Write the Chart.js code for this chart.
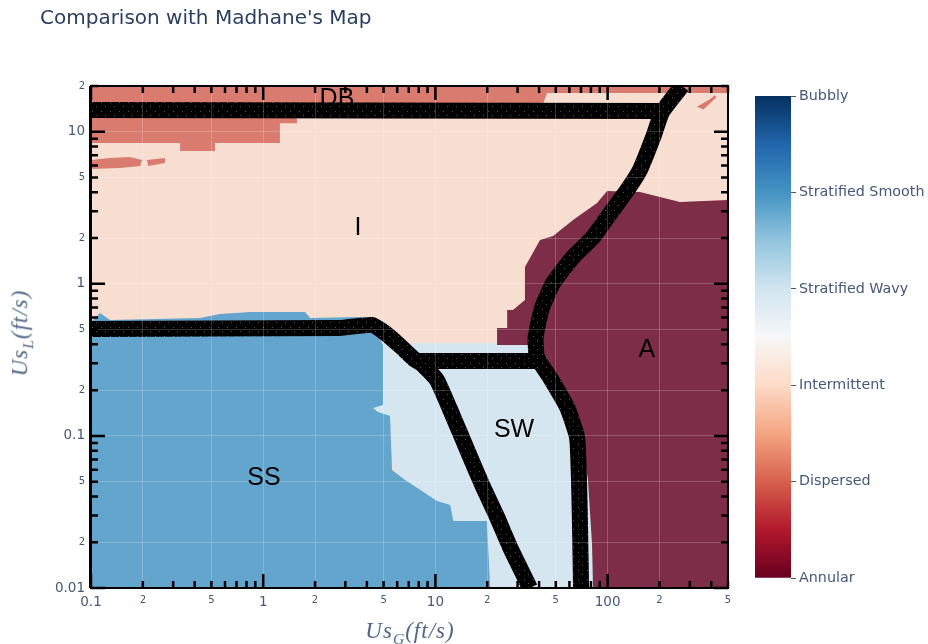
<!DOCTYPE html>
<html>
<head>
<meta charset="utf-8">
<script src="https://cdn.jsdelivr.net/npm/chart.js@4.4.1/dist/chart.umd.min.js"></script>
<style>
  body { margin: 0; background: #fff; }
  #wrap { position: relative; width: 928px; height: 644px; font-family: "DejaVu Sans", Verdana, sans-serif; }
  #main { position: absolute; left: 0; top: 0; }
  #cbar { position: absolute; left: 755px; top: 84px; }
  .title { position: absolute; left: 40px; top: 5px; font-size: 20px; color: #2a3f5f; white-space: nowrap; }
  .axtitle { position: absolute; font-family: "Liberation Serif", "DejaVu Serif", serif; font-style: italic;
             font-size: 23px; letter-spacing: 1px; color: #506784; white-space: nowrap; }
  .axtitle sub { font-size: 68%; }
</style>
</head>
<body>
<div id="wrap">
  <canvas id="main" width="928" height="644"></canvas>
  <canvas id="cbar" width="173" height="506"></canvas>
  <div class="title">Comparison with Madhane's Map</div>
  <div class="axtitle" style="left:410px; top:633px; transform:translate(-50%,-50%);">Us<sub>G</sub>(ft/s)</div>
  <div class="axtitle" style="left:22px; top:333px; transform:translate(-50%,-50%) rotate(-90deg);">Us<sub>L</sub>(ft/s)</div>
</div>
<script>
// axis ticks, plotly style (decade + 2 + 5)
const xTickVals = [0.1, 0.2, 0.5, 1, 2, 5, 10, 20, 50, 100, 200, 500];
const xTickText = ["0.1", "2", "5", "1", "2", "5", "10", "2", "5", "100", "2", "5"];
const yTickVals = [0.01, 0.02, 0.05, 0.1, 0.2, 0.5, 1, 2, 5, 10, 20];
const yTickText = ["0.01", "2", "5", "0.1", "2", "5", "1", "2", "5", "10", "2"];

// colorbar, bottom to top
const regimes = ["Annular", "Dispersed", "Intermittent", "Stratified Wavy", "Stratified Smooth", "Bubbly"];
const rdbu = ["#67001f", "#b2182b", "#d6604d", "#f4a582", "#fddbc7", "#f7f7f7",
              "#d1e5f0", "#92c5de", "#4393c3", "#2166ac", "#053061"];

// predicted regime areas [UsG, UsL]
const intermittentArea = [[0.1, 0.01], [500, 0.01], [500, 20], [0.1, 20]];
const dispersedArea = [[0.1, 20], [500, 20], [500, 18], [44.5, 18], [40.5, 13.5], [1.57, 12.3], [1.57, 11.4],
  [1.25, 11.4], [1.25, 8.44], [0.525, 8.44], [0.525, 7.47], [0.329, 7.47], [0.329, 8.44], [0.1, 8.44]];
const dispersedPatch1 = [[0.1, 6.52], [0.129, 6.72], [0.168, 6.83], [0.198, 6.52], [0.193, 5.96], [0.147, 5.78], [0.1, 5.69]];
const dispersedPatch2 = [[0.211, 6.52], [0.269, 6.72], [0.269, 6.23], [0.215, 5.96]];
const dispersedStreak = [[330, 14.6], [390, 16.3], [420, 17.4], [428, 16.8], [360, 14.0]];
const annularArea = [[500, 0.01], [82.3, 0.01], [81.2, 0.0192], [76.9, 0.0514], [71.0, 0.0939], [60.5, 0.16],
  [50.8, 0.233], [43.3, 0.293], [38.9, 0.396], [22.8, 0.396], [22.8, 0.513], [26.1, 0.513], [26.1, 0.673],
  [28.2, 0.673], [33.1, 0.784], [33.1, 1.29], [40.5, 1.94], [48.2, 2.06], [63.0, 2.63], [86.8, 3.4],
  [99.3, 4.08], [154, 4.02], [263, 3.45], [500, 3.56]];
const smoothArea = [[0.1, 0.01], [20.8, 0.01], [19.9, 0.0276], [12.7, 0.0276], [12.2, 0.0352], [10.2, 0.0374],
  [8.14, 0.0442], [6.66, 0.0514], [5.6, 0.0597], [5.45, 0.1353], [4.64, 0.1438], [4.34, 0.1528], [4.96, 0.16],
  [4.96, 0.396], [4.64, 0.461], [4.28, 0.579], [3.65, 0.606], [1.87, 0.597], [1.75, 0.653], [0.838, 0.653],
  [0.561, 0.634], [0.43, 0.597], [0.129, 0.579], [0.113, 0.644], [0.1, 0.562]];
const wavyArea = [[4.34, 0.408], [38.9, 0.408], [43.3, 0.293], [60.5, 0.16], [73.9, 0.0939], [81.2, 0.0514],
  [84.5, 0.01], [18.2, 0.01], [5.82, 0.0597], [4.34, 0.148]];

// Madhane's map transition lines
const lineTop = [[0.1, 13.9], [205, 13.7]];
const lineRight = [[270, 20], [207, 13.5], [184, 9.25], [154, 5.61], [130, 4.14], [107, 3.06], [82.3, 2.03],
  [63.0, 1.5], [48.2, 1.01], [41.5, 0.69], [38.2, 0.447], [38.9, 0.33], [46.5, 0.24], [58.1, 0.155],
  [66.4, 0.0984], [68.2, 0.0514], [69.2, 0.0241], [70.1, 0.01]];
const lineLeft = [[0.1, 0.505], [2.79, 0.513], [4.28, 0.537], [5.1, 0.475], [6.23, 0.391], [7.61, 0.316],
  [8.36, 0.297], [10.2, 0.233], [12.7, 0.133], [15.9, 0.0728], [18.9, 0.0462], [22.8, 0.0293], [27.1, 0.0186], [35.4, 0.01]];
const lineMid = [[7.61, 0.311], [40.5, 0.311]];

// region names written on the map
const regionText = ["DB", "I", "SS", "SW", "A"];
const regionX = [2.68, 3.55, 1.01, 28.6, 169];
const regionY = [16.4, 2.33, 0.053, 0.109, 0.367];

const pts = (arr) => arr.map(p => ({ x: p[0], y: p[1] }));

const speck = document.createElement('canvas');
speck.width = 9; speck.height = 9;
const sctx = speck.getContext('2d');
sctx.fillStyle = '#000';
sctx.fillRect(0, 0, 9, 9);
sctx.fillStyle = 'rgba(120,120,120,0.7)';
sctx.fillRect(2, 3, 1, 1);
sctx.fillRect(6, 7, 1, 1);
const speckle = sctx.createPattern(speck, 'repeat');

function area(arr, color) {
  return { data: pts(arr), fill: 'shape', backgroundColor: color, borderColor: 'rgba(0,0,0,0)',
           borderWidth: 0, pointRadius: 0, tension: 0 };
}
function boundary(arr) {
  return { data: pts(arr), fill: false, borderColor: speckle, borderWidth: 16, pointRadius: 0,
           tension: 0.15, borderJoinStyle: 'round', borderCapStyle: 'butt', clip: 0 };
}

const isDecade = (v) => Math.abs(Math.log10(v) - Math.round(Math.log10(v))) < 1e-9;
const tickFont = (c) => ({ family: "DejaVu Sans", size: isDecade(c.tick.value) ? 13.5 : 10 });

// plot frame with inward ticks + region names
const frame = {
  id: 'frame',
  afterDraw(chart) {
    const { ctx, chartArea: a, scales } = chart;
    ctx.save();
    ctx.strokeStyle = '#000';
    ctx.lineWidth = 2;
    ctx.strokeRect(a.left, a.top, a.right - a.left, a.bottom - a.top);
    ctx.lineWidth = 3;
    ctx.beginPath(); ctx.moveTo(a.left - 0.5, a.top); ctx.lineTo(a.left - 0.5, a.bottom); ctx.stroke();
    ctx.lineWidth = 2.5;
    for (let d = -2; d <= 2; d++) {
      for (let k = 1; k <= 9; k++) {
        const v = k * Math.pow(10, d);
        const len = k === 1 ? 14 : 7;
        if (v >= 0.1 && v <= 500) {
          const px = scales.x.getPixelForValue(v);
          ctx.beginPath();
          ctx.moveTo(px, a.bottom); ctx.lineTo(px, a.bottom - len);
          ctx.moveTo(px, a.top); ctx.lineTo(px, a.top + len);
          ctx.stroke();
        }
        if (v >= 0.01 && v <= 20) {
          const py = scales.y.getPixelForValue(v);
          ctx.beginPath();
          ctx.moveTo(a.left, py); ctx.lineTo(a.left + len, py);
          ctx.moveTo(a.right, py); ctx.lineTo(a.right - len, py);
          ctx.stroke();
        }
      }
    }
    ctx.fillStyle = '#000';
    ctx.font = '25px "Liberation Sans", sans-serif';
    ctx.textAlign = 'center';
    ctx.textBaseline = 'middle';
    regionText.forEach((t, i) => {
      ctx.fillText(t, scales.x.getPixelForValue(regionX[i]), scales.y.getPixelForValue(regionY[i]));
    });
    ctx.restore();
  }
};

new Chart(document.getElementById('main'), {
  type: 'line',
  data: {
    datasets: [
      boundary(lineTop),
      boundary(lineRight),
      boundary(lineLeft),
      boundary(lineMid),
      area(smoothArea, 'rgb(99,165,205)'),
      area(annularArea, 'rgb(126,45,73)'),
      area(dispersedPatch1, 'rgb(217,124,111)'),
      area(dispersedPatch2, 'rgb(217,124,111)'),
      area(dispersedStreak, 'rgb(217,124,111)'),
      area(dispersedArea, 'rgb(217,124,111)'),
      area(wavyArea, 'rgb(213,230,241)'),
      area(intermittentArea, 'rgb(248,222,208)')
    ]
  },
  options: {
    responsive: false,
    animation: false,
    layout: { padding: { left: 0, top: 86, right: 200, bottom: 0 } },
    plugins: { legend: { display: false }, tooltip: { enabled: false } },
    scales: {
      x: {
        type: 'logarithmic', min: 0.1, max: 500,
        afterBuildTicks: (s) => { s.ticks = xTickVals.map(v => ({ value: v })); },
        afterFit: (s) => { s.height = 56; },
        grid: { color: 'rgba(255,255,255,0.2)', drawTicks: false, z: 1 },
        border: { display: false },
        ticks: { autoSkip: false, maxRotation: 0, padding: 6, color: '#44587a', font: tickFont,
                 callback: (v, i) => xTickText[i] }
      },
      y: {
        type: 'logarithmic', min: 0.01, max: 20,
        afterBuildTicks: (s) => { s.ticks = yTickVals.map(v => ({ value: v })); },
        afterFit: (s) => { s.width = 91; },
        grid: { color: 'rgba(255,255,255,0.2)', drawTicks: false, z: 1 },
        border: { display: false },
        ticks: { autoSkip: false, padding: 6, color: '#44587a', font: tickFont,
                 callback: (v, i) => yTickText[i] }
      }
    }
  },
  plugins: [frame]
});

// colorbar
new Chart(document.getElementById('cbar'), {
  type: 'bar',
  data: {
    labels: [''],
    datasets: [{
      data: [[0, regimes.length - 1]],
      barPercentage: 1, categoryPercentage: 1, borderWidth: 0,
      backgroundColor: (c) => {
        const a = c.chart.chartArea;
        if (!a) return rdbu[0];
        const g = c.chart.ctx.createLinearGradient(0, a.bottom, 0, a.top);
        rdbu.forEach((col, i) => g.addColorStop(i / (rdbu.length - 1), col));
        return g;
      }
    }]
  },
  options: {
    responsive: false,
    animation: false,
    layout: { padding: { left: 0, right: 0, top: 12, bottom: 12 } },
    plugins: { legend: { display: false }, tooltip: { enabled: false } },
    scales: {
      x: { display: false },
      y: {
        position: 'right', min: 0, max: regimes.length - 1,
        afterFit: (s) => { s.width = 137; },
        grid: { drawOnChartArea: false, tickLength: 5, color: '#555' },
        border: { display: false },
        ticks: { stepSize: 1, padding: 3, color: '#44587a', font: { family: "DejaVu Sans", size: 14.3 },
                 callback: (v) => regimes[v] }
      }
    }
  }
});
</script>
</body>
</html>
